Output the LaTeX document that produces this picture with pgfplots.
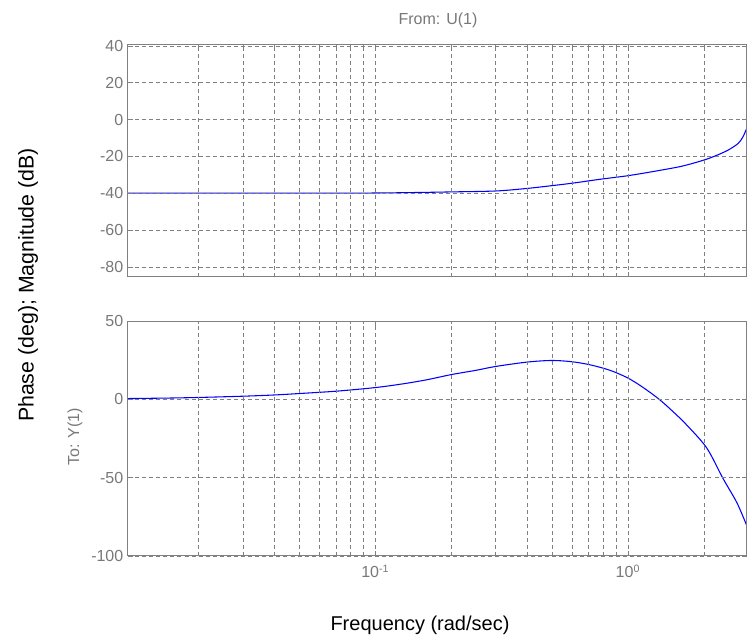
\documentclass[border=0pt]{standalone}
\usepackage{pgfplots}
\pgfplotsset{compat=1.18}
\usepackage{fontspec}
\setmainfont{Liberation Sans}
\definecolor{mgray}{RGB}{128,128,128}
\definecolor{tgray}{RGB}{120,120,120}
\definecolor{mblue}{RGB}{0,0,255}
\pgfplotsset{
  bodestyle/.style={
    scale only axis,
    width=464.25pt,
    xmin=0.0105, xmax=2.96,
    axis on top,
    axis line style={mgray, line width=0.75pt},
    tick style={mgray, line width=0.5pt},
    major tick length=4pt,
    minor tick length=2.5pt,
    tick align=inside,
    grid=both,
    major grid style={mgray, line width=0.5pt, dash pattern=on 3pt off 2.3pt},
    minor grid style={mgray, line width=0.5pt, dash pattern=on 3pt off 2.3pt},
    xtick={0.1,1},
    minor xtick={0.02,0.03,0.04,0.05,0.06,0.07,0.08,0.09,0.2,0.3,0.4,0.5,0.6,0.7,0.8,0.9,2},
    ticklabel style={font=\fontsize{12}{14}\selectfont, text=tgray},
    /pgf/number format/assume math mode=true,
    yticklabel style={/pgf/number format/fixed},
  }
}
\begin{document}
\begin{tikzpicture}
\path[use as bounding box] (0,0) rectangle (560.25pt,480pt);
% top: magnitude
\begin{semilogxaxis}[bodestyle,
  at={(96pt,272.25pt)}, anchor=south west,
  height=174.75pt,
  ymin=-85.5, ymax=41,
  ytick={-80,-60,-40,-20,0,20,40},
  yticklabels={-80,-60,-40,-20,0,20,40},
  xticklabels={},
]
\addplot[mblue, line width=0.8pt, smooth] coordinates {
(0.0105,-40) (0.03,-40) (0.06,-40) (0.1,-39.9) (0.15,-39.6) (0.2,-39.3)
(0.3,-38.8) (0.4,-37.4) (0.5,-35.9) (0.6,-34.6) (0.77,-32.5) (1.0,-30.5)
(1.3,-27.9) (1.64,-25.3) (2.0,-22.0) (2.25,-19.4) (2.5,-16.5) (2.73,-13.0)
(2.85,-9.5) (2.96,-4.5)
};
\end{semilogxaxis}
% bottom: phase
\begin{semilogxaxis}[bodestyle,
  at={(96pt,63pt)}, anchor=south west,
  height=176.25pt,
  ymin=-100, ymax=50,
  ytick={-100,-50,0,50},
  yticklabels={-100,-50,0,50},
  xticklabels={{10\textsuperscript{-1}},{10\textsuperscript{0}}},
  xticklabel style={yshift=-3pt},
]
\addplot[mblue, line width=0.8pt, smooth] coordinates {
(0.0105,0.5) (0.015,0.8) (0.02,1.2) (0.03,2.0) (0.04,2.8) (0.05,3.7)
(0.07,5.2) (0.1,7.5) (0.13,10) (0.16,12.5) (0.2,15.8) (0.25,18.5)
(0.3,21.0) (0.4,23.8) (0.5,24.8) (0.6,24.0) (0.71,22.0) (0.85,18.5)
(1.0,13.6) (1.15,7.5) (1.33,0) (1.5,-7.5) (1.7,-16) (2.05,-31)
(2.38,-50.6) (2.7,-66) (2.96,-81)
};
\end{semilogxaxis}
\node[text=tgray, font=\fontsize{12}{14}\selectfont] at (328.5pt,465pt) {From: U(1)};
\node[rotate=90, font=\fontsize{16}{18}\selectfont] at (21pt,266.25pt) {Phase (deg); Magnitude (dB)};
\node[rotate=90, text=tgray, font=\fontsize{12}{14}\selectfont] at (56.25pt,152.25pt) {To: Y(1)};
\node[font=\fontsize{15}{18}\selectfont] at (315pt,11.25pt) {Frequency (rad/sec)};
\end{tikzpicture}
\end{document}
